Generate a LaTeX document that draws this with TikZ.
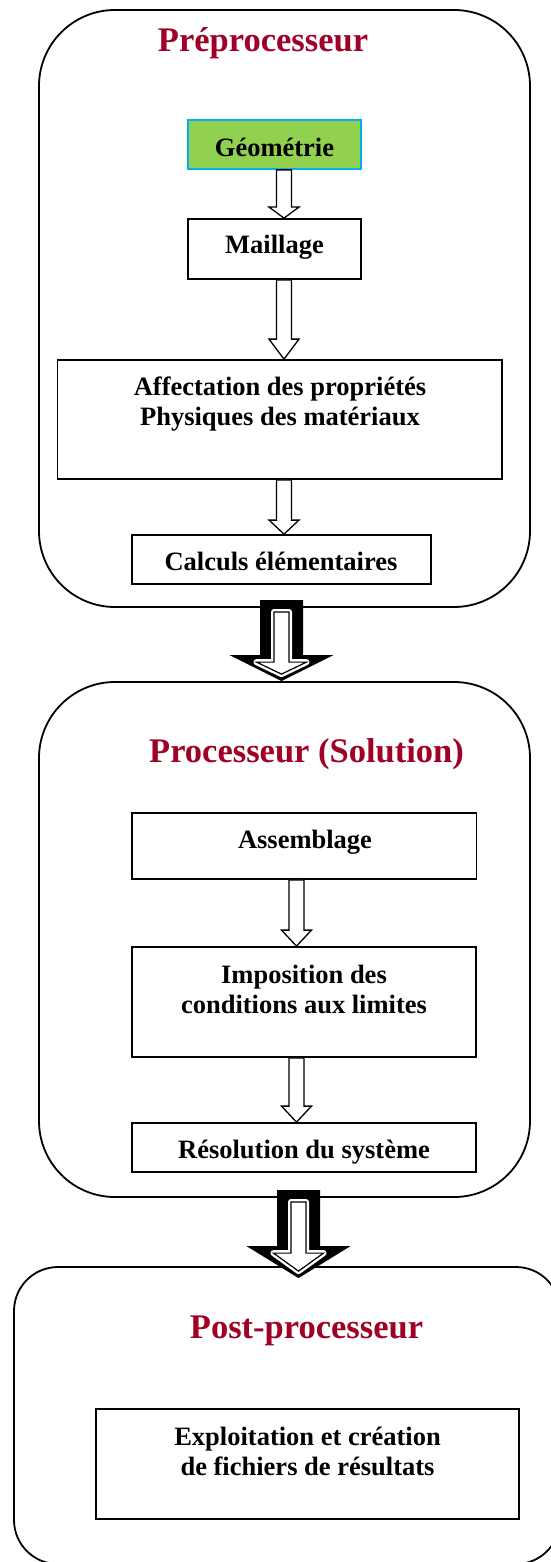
\documentclass[tikz,border=0pt]{standalone}
\usepackage{fontspec}
\setmainfont{Liberation Serif}
\usetikzlibrary{calc}
\definecolor{titlered}{RGB}{160,0,38}
\definecolor{geogreen}{RGB}{146,208,80}
\definecolor{geoblue}{RGB}{0,176,240}
\newcommand\hollowarrow[3]{%
  \draw[harrow] let \p1=#1, \p2=#2 in
    (\x1-7.5pt,\y1) -- (\x1-7.5pt,\y2+#3) -- (\x1-15pt,\y2+#3) -- (\x1,\y2)
    -- (\x1+15pt,\y2+#3) -- (\x1+7.5pt,\y2+#3) -- (\x1+7.5pt,\y1) -- cycle;}
\newcommand\bigarrow[3]{%
  \fill[black] let \p1=#1, \p2=#2 in
    (\x2-21.5pt,\y1) -- (\x2+21.5pt,\y1) -- (\x2+21.5pt,\y2+#3) -- (\x2+52pt,\y2+#3)
    -- (\x2,\y2) -- (\x2-52pt,\y2+#3) -- (\x2-21.5pt,\y2+#3) -- cycle;
  \draw[white, line width=6pt, line join=round] let \p1=#1, \p2=#2 in
    (\x2-7.5pt,\y1-12pt) -- (\x2+7.5pt,\y1-12pt) -- (\x2+7.5pt,\y2+#3-7pt) -- (\x2+25pt,\y2+#3-7pt)
    -- (\x2,\y2+7pt) -- (\x2-25pt,\y2+#3-7pt) -- (\x2-7.5pt,\y2+#3-7pt) -- cycle;
  \draw[black, fill=white, line width=1.2pt] let \p1=#1, \p2=#2 in
    (\x2-7.5pt,\y1-12pt) -- (\x2+7.5pt,\y1-12pt) -- (\x2+7.5pt,\y2+#3-7pt) -- (\x2+25pt,\y2+#3-7pt)
    -- (\x2,\y2+7pt) -- (\x2-25pt,\y2+#3-7pt) -- (\x2-7.5pt,\y2+#3-7pt) -- cycle;}
\begin{document}
\begin{tikzpicture}[x=1pt,y=-1pt,
  panel/.style={draw=black, line width=1.8pt, rounded corners=76pt, inner sep=0pt},
  box/.style={draw=black, line width=1.8pt, inner sep=0pt, fill=white},
  txt/.style={font=\fontsize{26.5}{30}\selectfont\bfseries, inner sep=0pt, align=center},
  ttl/.style={font=\fontsize{34.5}{40}\selectfont\bfseries, text=titlered, inner sep=0pt},
  harrow/.style={draw=black, line width=1.3pt, fill=white, line join=miter},
]
\useasboundingbox (0,0) rectangle (550,1562);

% panels
\node[panel, minimum width=491pt, minimum height=597pt] (pre) at (284.5,308.5) {};
\node[panel, minimum width=491pt, minimum height=515pt] (pro) at (284.5,939.5) {};
\node[panel, rounded corners=44pt, minimum width=546pt, minimum height=297pt] (post) at (287,1415.5) {};

% boxes
\node[box, fill=geogreen, draw=geoblue, minimum width=173pt, minimum height=49pt] (geo) at (274.5,144.5) {};
\node[box, minimum width=173pt, minimum height=60pt] (mail) at (274.5,249) {};
\node[box, minimum width=444.5pt, minimum height=119pt] (aff) at (279.75,419.5) {};
\node[box, minimum width=299pt, minimum height=49pt] (calc) at (281.5,559.5) {};
\node[box, minimum width=344.5pt, minimum height=66pt] (ass) at (304.25,846) {};
\node[box, minimum width=344pt, minimum height=110pt] (imp) at (304,1002) {};
\node[box, minimum width=344pt, minimum height=49pt] (res) at (304,1147.5) {};
\node[box, minimum width=423pt, minimum height=110pt] (exp) at (307.5,1464) {};

% texts
\node[ttl, anchor=base] (pret) at (263,52) {Préprocesseur};
\node[ttl, anchor=base] (prot) at (306.5,762) {Processeur (Solution)};
\node[ttl, anchor=base] (postt) at (306.5,1338) {Post-processeur};
\node[txt, anchor=base] (geot) at (274.5,157) {Géométrie};
\node[txt, anchor=base] (mailt) at (274.5,254) {Maillage};
\node[txt, anchor=base] (afft) at (280,395) {\begin{tabular}[t]{@{}c@{}}Affectation des propriétés\\Physiques des matériaux\end{tabular}};
\node[txt, anchor=base] (calct) at (281,570) {Calculs élémentaires};
\node[txt, anchor=base] (asst) at (305,848) {Assemblage};
\node[txt, anchor=base] (impt) at (304,983) {\begin{tabular}[t]{@{}c@{}}Imposition des\\conditions aux limites\end{tabular}};
\node[txt, anchor=base] (rest) at (304,1158) {Résolution du système};
\node[txt, anchor=base] (expt) at (307.5,1445) {\begin{tabular}[t]{@{}c@{}}Exploitation et création\\de fichiers de résultats\end{tabular}};

% small hollow arrows
\coordinate (c1) at (284,0);
\coordinate (c2) at (296.5,0);
\hollowarrow{(geo.south -| c1)}{(mail.north -| c1)}{11pt}
\hollowarrow{(mail.south -| c1)}{(aff.north -| c1)}{20pt}
\hollowarrow{(aff.south -| c1)}{(calc.north -| c1)}{14pt}
\hollowarrow{(ass.south -| c2)}{(imp.north -| c2)}{16pt}
\hollowarrow{(imp.south -| c2)}{(res.north -| c2)}{16pt}

% big arrows between panels
\coordinate (b1) at (281.5,600);
\coordinate (b2) at (298.5,1190);
\coordinate (b2tip) at ($(post.north -| b2)+(0,12)$);
\bigarrow{(b1)}{(pro.north -| b1)}{26pt}
\bigarrow{(b2)}{(b2tip)}{32pt}
\end{tikzpicture}
\end{document}
